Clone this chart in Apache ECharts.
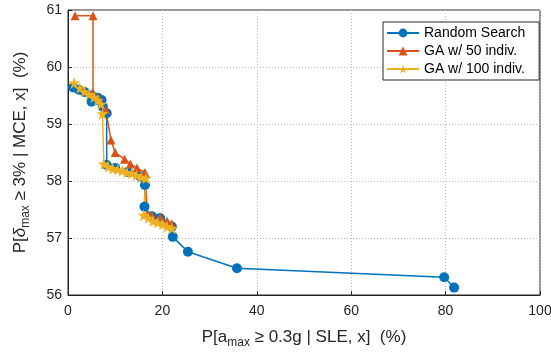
<!DOCTYPE html>
<html>
<head>
<meta charset="utf-8">
<script src="https://cdn.jsdelivr.net/npm/echarts@6/dist/echarts.min.js"></script>
<style>
  html, body { margin: 0; padding: 0; background: #fff; }
  #chart { width: 551px; height: 356px; }
</style>
</head>
<body>
<div id="chart"></div>
<script>
// [x, y] pairs (both in %)
const randomSearch = [
  [1.1, 59.64], [2.3, 59.6], [3.5, 59.56], [5.0, 59.5], [6.3, 59.46], [7.1, 59.42],
  [5.0, 59.39], [7.4, 59.3], [8.2, 59.19], [8.2, 58.28], [10.0, 58.23], [12.7, 58.16],
  [15.3, 58.08], [16.3, 57.93], [16.2, 57.55], [17.8, 57.38], [19.5, 57.35],
  [22.0, 57.2], [22.2, 57.02], [25.4, 56.76], [35.8, 56.47], [79.7, 56.31], [81.8, 56.13]
];
const ga50 = [
  [1.5, 60.9], [5.3, 60.9], [5.3, 59.55], [6.5, 59.45], [8.0, 59.25], [9.1, 58.72],
  [10.0, 58.5], [12.0, 58.38], [13.2, 58.3], [14.6, 58.23], [16.3, 58.15],
  [16.8, 57.42], [17.8, 57.4], [19.5, 57.37], [21.0, 57.3], [22.0, 57.25]
];
const ga100 = [
  [1.3, 59.72], [2.5, 59.63], [3.5, 59.57], [4.5, 59.52], [5.5, 59.47], [6.3, 59.42],
  [7.0, 59.35], [7.3, 59.18], [7.6, 58.3], [8.5, 58.25], [9.5, 58.22], [10.5, 58.2],
  [11.5, 58.18], [12.5, 58.15], [13.5, 58.13], [14.5, 58.1], [15.5, 58.07], [16.5, 58.05],
  [16.0, 57.4], [17.0, 57.35], [18.0, 57.3], [19.0, 57.27], [20.0, 57.24], [21.0, 57.2],
  [22.0, 57.17]
];
const seriesNames = ['Random Search', 'GA w/ 50 indiv.', 'GA w/ 100 indiv.'];
const colors = ['#0072BD', '#D95319', '#EDB120'];

const star = 'path://M50,0 L61,35 L98,35 L68,57 L79,91 L50,70 L21,91 L32,57 L2,35 L39,35 Z';
const font = 'Liberation Sans, Arial, sans-serif';
const textColor = '#262626';

const chart = echarts.init(document.getElementById('chart'));

const splitLine = { show: true, lineStyle: { color: '#b8b8b8', type: [1, 2], width: 1 } };
const nameRich = {
  n: { fontSize: 17, fontFamily: font, color: textColor },
  i: { fontSize: 17, fontFamily: font, color: textColor, fontStyle: 'italic' },
  s: { fontSize: 12, fontFamily: font, color: textColor, padding: [12, 0, 0, 0] }
};

const mkSeries = (name, data, color, symbol, size) => ({
  name,
  type: 'line',
  data,
  symbol,
  symbolSize: size,
  color,
  lineStyle: { width: 1.5, color },
  itemStyle: { color },
  animation: false
});

chart.setOption({
  animation: false,
  color: colors,
  grid: {
    left: 68, right: 11, top: 10, bottom: 61,
    outerBoundsMode: 'none',
    show: true, borderColor: textColor, borderWidth: 1
  },
  xAxis: {
    type: 'value',
    min: 0, max: 100, interval: 20,
    name: '{n|P[a}{s|max}{n| ≥ 0.3g | SLE, x]  (%)}',
    nameLocation: 'middle',
    nameGap: 30,
    nameTextStyle: { rich: nameRich },
    axisLine: { show: true, lineStyle: { color: textColor } },
    axisTick: { inside: true, length: 4, lineStyle: { color: textColor } },
    axisLabel: { fontSize: 14, color: textColor, fontFamily: font, margin: 9 },
    splitLine
  },
  yAxis: {
    type: 'value',
    min: 56, max: 61, interval: 1,
    name: '{n|P[}{i|δ}{s|max}{n| ≥ 3% | MCE, x]  (%)}',
    nameLocation: 'middle',
    nameRotate: 90,
    nameGap: 36,
    nameTextStyle: { rich: nameRich },
    axisLine: { show: true, lineStyle: { color: textColor } },
    axisTick: { inside: true, length: 4, lineStyle: { color: textColor } },
    axisLabel: { fontSize: 14, color: textColor, fontFamily: font, margin: 6 },
    splitLine
  },
  legend: {
    orient: 'vertical',
    left: 383,
    top: 22,
    padding: [4, 14, 4, 3],
    itemGap: 4,
    itemWidth: 32,
    itemHeight: 11,
    backgroundColor: '#fff',
    borderColor: textColor,
    borderWidth: 1,
    borderRadius: 0,
    textStyle: { fontSize: 14, color: '#000', fontFamily: font },
    data: seriesNames
  },
  series: [
    mkSeries(seriesNames[0], randomSearch, colors[0], 'circle', 10),
    mkSeries(seriesNames[1], ga50, colors[1], 'triangle', 9),
    mkSeries(seriesNames[2], ga100, colors[2], star, 12)
  ]
});
</script>
</body>
</html>
